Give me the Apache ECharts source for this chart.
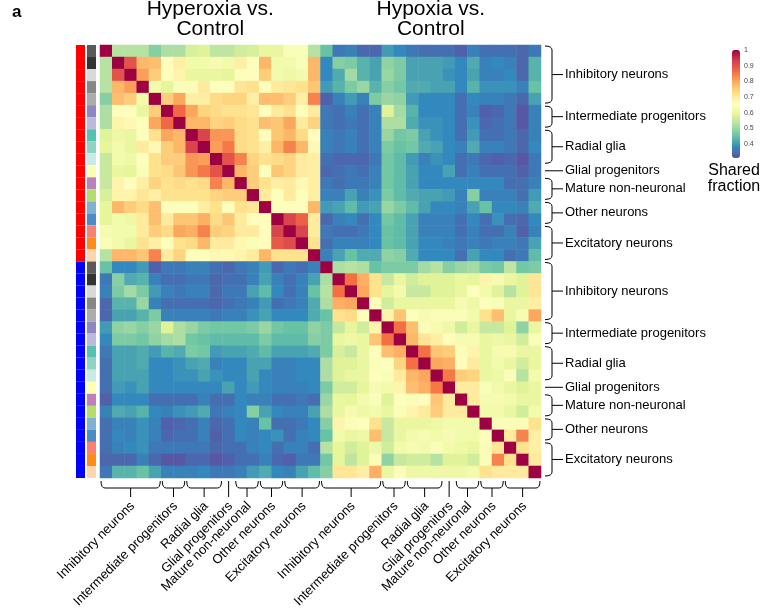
<!DOCTYPE html>
<html>
<head>
<meta charset="utf-8">
<script src="https://cdn.jsdelivr.net/npm/echarts@6/dist/echarts.min.js"></script>
<style>
  html, body { margin: 0; background: #fff; }
  #chart { width: 769px; height: 615px; }
</style>
</head>
<body>
<div id="chart"></div>
<script>
// conditions, cell-type groups and cluster annotation colours
var conditions = ['Hyperoxia', 'Hypoxia'];
var conditionColors = ['#ff0000', '#0000ff'];
var groupNames = ['Inhibitory neurons', 'Intermediate progenitors', 'Radial glia', 'Glial progenitors',
  'Mature non-neuronal', 'Other neurons', 'Excitatory neurons'];
var groupSizes = [5, 2, 3, 1, 2, 2, 3];
var clusterColors = ['#5a5a5a', '#333333', '#d9d9d9', '#878787', '#acacac', '#8e87c4', '#bcbadc',
  '#55c1b0', '#8fd3c7', '#c8ebe6', '#ffffb3', '#bc80bd', '#b3de69', '#80b1d3', '#4a8cc3',
  '#fb8072', '#ff8c1a', '#fdd6b0'];
var colorTicks = [0.4, 0.5, 0.6, 0.7, 0.8, 0.9, 1];

// shared fraction, Hyperoxia clusters vs Hyperoxia clusters
var hyperBlock = [
  [1.0, 0.53, 0.53, 0.53, 0.48, 0.52, 0.52, 0.57, 0.58, 0.54, 0.54, 0.56, 0.57, 0.6, 0.6, 0.64, 0.64, 0.53],
  [0.53, 1, 0.9, 0.78, 0.77, 0.66, 0.69, 0.62, 0.62, 0.63, 0.62, 0.69, 0.66, 0.78, 0.62, 0.62, 0.64, 0.78],
  [0.53, 0.9, 1, 0.81, 0.75, 0.65, 0.68, 0.6, 0.6, 0.6, 0.59, 0.65, 0.66, 0.75, 0.62, 0.61, 0.62, 0.78],
  [0.53, 0.78, 0.81, 1, 0.62, 0.59, 0.64, 0.64, 0.7, 0.65, 0.65, 0.71, 0.72, 0.66, 0.7, 0.71, 0.72, 0.76],
  [0.48, 0.77, 0.75, 0.62, 1, 0.75, 0.8, 0.69, 0.69, 0.73, 0.74, 0.74, 0.69, 0.77, 0.77, 0.75, 0.69, 0.84],
  [0.52, 0.65, 0.65, 0.6, 0.75, 1, 0.87, 0.8, 0.74, 0.73, 0.72, 0.72, 0.71, 0.66, 0.7, 0.72, 0.66, 0.7],
  [0.52, 0.68, 0.67, 0.65, 0.8, 0.87, 1, 0.78, 0.78, 0.74, 0.75, 0.73, 0.72, 0.77, 0.76, 0.8, 0.7, 0.74],
  [0.58, 0.61, 0.6, 0.65, 0.72, 0.8, 0.78, 1, 0.92, 0.82, 0.82, 0.73, 0.72, 0.66, 0.76, 0.78, 0.73, 0.66],
  [0.59, 0.62, 0.6, 0.7, 0.67, 0.75, 0.78, 0.92, 1, 0.81, 0.85, 0.73, 0.72, 0.69, 0.78, 0.84, 0.78, 0.67],
  [0.55, 0.62, 0.61, 0.65, 0.72, 0.75, 0.75, 0.82, 0.81, 1, 0.9, 0.84, 0.74, 0.72, 0.73, 0.74, 0.7, 0.69],
  [0.55, 0.6, 0.59, 0.64, 0.72, 0.73, 0.76, 0.82, 0.85, 0.9, 1, 0.78, 0.75, 0.65, 0.76, 0.74, 0.7, 0.69],
  [0.55, 0.68, 0.65, 0.69, 0.74, 0.72, 0.73, 0.72, 0.73, 0.84, 0.78, 1, 0.75, 0.72, 0.69, 0.7, 0.67, 0.69],
  [0.57, 0.68, 0.68, 0.71, 0.69, 0.72, 0.72, 0.72, 0.72, 0.74, 0.75, 0.75, 1, 0.7, 0.65, 0.7, 0.65, 0.69],
  [0.59, 0.78, 0.75, 0.73, 0.77, 0.66, 0.65, 0.66, 0.69, 0.72, 0.65, 0.72, 0.71, 1, 0.66, 0.66, 0.66, 0.78],
  [0.59, 0.62, 0.61, 0.7, 0.77, 0.7, 0.76, 0.76, 0.79, 0.73, 0.76, 0.7, 0.66, 0.66, 1, 0.92, 0.88, 0.7],
  [0.63, 0.62, 0.62, 0.7, 0.75, 0.73, 0.8, 0.79, 0.84, 0.75, 0.74, 0.7, 0.7, 0.66, 0.92, 1, 0.92, 0.7],
  [0.64, 0.62, 0.6, 0.72, 0.69, 0.65, 0.72, 0.73, 0.78, 0.7, 0.7, 0.67, 0.64, 0.66, 0.89, 0.91, 1, 0.72],
  [0.53, 0.78, 0.78, 0.76, 0.84, 0.7, 0.74, 0.66, 0.66, 0.67, 0.67, 0.68, 0.7, 0.78, 0.72, 0.72, 0.72, 1]
];

// Hyperoxia clusters (rows) vs Hypoxia clusters (columns)
var crossBlock = [
  [0.45, 0.36, 0.37, 0.34, 0.34, 0.4, 0.38, 0.36, 0.35, 0.35, 0.35, 0.33, 0.37, 0.35, 0.35, 0.35, 0.34, 0.36],
  [0.38, 0.48, 0.47, 0.43, 0.41, 0.49, 0.47, 0.41, 0.41, 0.41, 0.4, 0.38, 0.42, 0.37, 0.38, 0.37, 0.34, 0.43],
  [0.38, 0.42, 0.51, 0.43, 0.41, 0.5, 0.47, 0.41, 0.41, 0.41, 0.39, 0.38, 0.41, 0.37, 0.37, 0.38, 0.34, 0.43],
  [0.4, 0.43, 0.47, 0.5, 0.43, 0.48, 0.46, 0.42, 0.42, 0.41, 0.41, 0.38, 0.43, 0.39, 0.39, 0.39, 0.37, 0.45],
  [0.33, 0.37, 0.4, 0.37, 0.47, 0.5, 0.49, 0.4, 0.38, 0.38, 0.38, 0.35, 0.38, 0.37, 0.37, 0.36, 0.34, 0.41],
  [0.36, 0.35, 0.37, 0.35, 0.37, 0.58, 0.51, 0.43, 0.38, 0.38, 0.38, 0.35, 0.37, 0.33, 0.34, 0.36, 0.32, 0.37],
  [0.36, 0.35, 0.36, 0.35, 0.37, 0.52, 0.52, 0.42, 0.39, 0.39, 0.38, 0.35, 0.39, 0.34, 0.35, 0.36, 0.32, 0.37],
  [0.37, 0.36, 0.37, 0.35, 0.37, 0.5, 0.46, 0.47, 0.41, 0.39, 0.38, 0.35, 0.4, 0.35, 0.35, 0.36, 0.34, 0.37],
  [0.37, 0.36, 0.37, 0.35, 0.37, 0.47, 0.45, 0.46, 0.42, 0.41, 0.38, 0.37, 0.42, 0.37, 0.37, 0.36, 0.34, 0.38],
  [0.35, 0.34, 0.34, 0.34, 0.36, 0.46, 0.44, 0.4, 0.37, 0.39, 0.38, 0.35, 0.36, 0.34, 0.33, 0.34, 0.32, 0.36],
  [0.34, 0.35, 0.36, 0.35, 0.37, 0.46, 0.44, 0.41, 0.38, 0.38, 0.41, 0.35, 0.37, 0.35, 0.35, 0.35, 0.33, 0.36],
  [0.36, 0.35, 0.36, 0.36, 0.37, 0.46, 0.44, 0.41, 0.38, 0.38, 0.38, 0.38, 0.38, 0.38, 0.38, 0.35, 0.35, 0.37],
  [0.37, 0.37, 0.41, 0.37, 0.39, 0.47, 0.44, 0.42, 0.41, 0.41, 0.4, 0.37, 0.48, 0.37, 0.37, 0.37, 0.35, 0.4],
  [0.4, 0.41, 0.44, 0.4, 0.41, 0.5, 0.47, 0.44, 0.41, 0.38, 0.38, 0.37, 0.41, 0.45, 0.38, 0.38, 0.37, 0.42],
  [0.34, 0.37, 0.38, 0.35, 0.38, 0.46, 0.44, 0.41, 0.37, 0.37, 0.37, 0.35, 0.38, 0.35, 0.39, 0.35, 0.34, 0.38],
  [0.36, 0.35, 0.35, 0.36, 0.38, 0.45, 0.44, 0.41, 0.37, 0.37, 0.37, 0.35, 0.37, 0.35, 0.35, 0.37, 0.33, 0.37],
  [0.35, 0.37, 0.37, 0.37, 0.38, 0.45, 0.44, 0.41, 0.38, 0.38, 0.37, 0.36, 0.37, 0.36, 0.37, 0.37, 0.36, 0.41],
  [0.37, 0.41, 0.45, 0.42, 0.42, 0.49, 0.48, 0.42, 0.38, 0.38, 0.38, 0.35, 0.41, 0.38, 0.38, 0.35, 0.36, 0.44]
];

// Hypoxia clusters vs Hypoxia clusters
var hypoBlock = [
  [1, 0.52, 0.53, 0.52, 0.45, 0.47, 0.47, 0.47, 0.51, 0.53, 0.48, 0.5, 0.51, 0.47, 0.46, 0.54, 0.46, 0.47],
  [0.52, 1, 0.86, 0.79, 0.72, 0.55, 0.6, 0.56, 0.58, 0.58, 0.58, 0.6, 0.59, 0.68, 0.63, 0.6, 0.58, 0.71],
  [0.53, 0.86, 1, 0.8, 0.72, 0.59, 0.62, 0.55, 0.55, 0.58, 0.58, 0.6, 0.66, 0.62, 0.58, 0.53, 0.58, 0.71],
  [0.52, 0.79, 0.8, 1, 0.65, 0.56, 0.6, 0.6, 0.6, 0.6, 0.6, 0.63, 0.61, 0.65, 0.64, 0.6, 0.6, 0.69],
  [0.45, 0.72, 0.73, 0.65, 1, 0.68, 0.76, 0.65, 0.63, 0.64, 0.64, 0.64, 0.62, 0.72, 0.77, 0.6, 0.63, 0.8],
  [0.47, 0.55, 0.59, 0.56, 0.68, 1, 0.86, 0.77, 0.64, 0.63, 0.61, 0.56, 0.6, 0.55, 0.55, 0.58, 0.49, 0.6],
  [0.47, 0.6, 0.61, 0.6, 0.76, 0.86, 1, 0.78, 0.71, 0.69, 0.66, 0.63, 0.63, 0.6, 0.61, 0.6, 0.56, 0.64],
  [0.47, 0.57, 0.55, 0.6, 0.65, 0.77, 0.79, 1, 0.86, 0.76, 0.75, 0.64, 0.68, 0.6, 0.63, 0.63, 0.6, 0.6],
  [0.52, 0.58, 0.58, 0.6, 0.64, 0.65, 0.74, 0.86, 1, 0.8, 0.79, 0.66, 0.7, 0.6, 0.62, 0.6, 0.56, 0.6],
  [0.52, 0.58, 0.6, 0.6, 0.65, 0.64, 0.7, 0.78, 0.8, 1, 0.85, 0.75, 0.74, 0.6, 0.61, 0.64, 0.53, 0.62],
  [0.47, 0.56, 0.56, 0.59, 0.63, 0.62, 0.68, 0.77, 0.79, 0.85, 1, 0.7, 0.7, 0.64, 0.62, 0.6, 0.58, 0.6],
  [0.5, 0.6, 0.59, 0.62, 0.64, 0.58, 0.65, 0.64, 0.66, 0.76, 0.7, 1, 0.7, 0.63, 0.63, 0.62, 0.6, 0.6],
  [0.52, 0.6, 0.63, 0.61, 0.62, 0.6, 0.64, 0.68, 0.7, 0.75, 0.7, 0.7, 1, 0.62, 0.62, 0.6, 0.56, 0.62],
  [0.48, 0.68, 0.64, 0.65, 0.72, 0.55, 0.6, 0.6, 0.6, 0.61, 0.62, 0.62, 0.62, 1, 0.64, 0.64, 0.64, 0.72],
  [0.45, 0.62, 0.6, 0.61, 0.77, 0.55, 0.6, 0.62, 0.63, 0.62, 0.63, 0.62, 0.62, 0.65, 1, 0.7, 0.84, 0.69],
  [0.53, 0.59, 0.56, 0.58, 0.61, 0.56, 0.62, 0.63, 0.62, 0.64, 0.62, 0.61, 0.6, 0.64, 0.71, 1, 0.72, 0.69],
  [0.46, 0.59, 0.54, 0.58, 0.64, 0.49, 0.55, 0.56, 0.56, 0.53, 0.58, 0.58, 0.56, 0.64, 0.84, 0.72, 1, 0.7],
  [0.48, 0.71, 0.71, 0.69, 0.79, 0.6, 0.64, 0.61, 0.61, 0.61, 0.61, 0.61, 0.62, 0.72, 0.7, 0.7, 0.7, 1]
];

var spectral = ['#5e4fa2', '#3288bd', '#66c2a5', '#abdda4', '#e6f598', '#ffffbf',
  '#fee08b', '#fdae61', '#f46d43', '#d53e4f', '#9e0142'];
var font = '"Liberation Sans", Arial, sans-serif';

var n = clusterColors.length;
var labels = [];
conditions.forEach(function (c) {
  for (var k = 0; k < n; k++) labels.push(c + ' ' + (k + 1));
});

// full matrix, the Hypoxia x Hyperoxia block is the cross block transposed
var cells = [];
for (var i = 0; i < 2 * n; i++) {
  for (var j = 0; j < 2 * n; j++) {
    var v;
    if (i < n && j < n) v = hyperBlock[i][j];
    else if (i < n) v = crossBlock[i][j - n];
    else if (j < n) v = crossBlock[j][i - n];
    else v = hypoBlock[i - n][j - n];
    cells.push([j, i, v]);
  }
}

// group brackets: [start, end, group, side]  side 0 = right, 1 = bottom
var brackets = [];
for (var c = 0; c < 2; c++) {
  var start = c * n;
  groupSizes.forEach(function (sz, g) {
    brackets.push([start, start + sz - 1, g, 0]);
    brackets.push([start, start + sz - 1, g, 1]);
    start += sz;
  });
}

function renderBracket(params, api) {
  var s = api.value(0), e = api.value(1), g = api.value(2), side = api.value(3);
  var cs = params.coordSys;
  var band = api.size([1, 1]);
  var r = 4, d, txt;
  if (side === 0) {
    var y0 = api.coord([0, s])[1] - band[1] / 2 + 1;
    var y1 = api.coord([0, e])[1] + band[1] / 2 - 2;
    var ym = (y0 + y1) / 2;
    var x0 = cs.x + cs.width + 4, x1 = x0 + 7;
    if (s === e) d = 'M' + x0 + ' ' + ym + 'L' + (x1 + 11) + ' ' + ym;
    else d = 'M' + x0 + ' ' + y0 + 'Q' + x1 + ' ' + y0 + ' ' + x1 + ' ' + (y0 + r) +
      'L' + x1 + ' ' + (y1 - r) + 'Q' + x1 + ' ' + y1 + ' ' + x0 + ' ' + y1 +
      'M' + x1 + ' ' + ym + 'L' + (x1 + 11) + ' ' + ym;
    txt = {type: 'text', x: x1 + 13, y: ym,
      style: {text: groupNames[g], font: '13px ' + font, fill: '#000', align: 'left', verticalAlign: 'middle'}};
  } else {
    var xa = api.coord([s, 0])[0] - band[0] / 2 + 1;
    var xb = api.coord([e, 0])[0] + band[0] / 2 - 1;
    var xm = (xa + xb) / 2;
    var ya = cs.y + cs.height + 3, yb = ya + 7;
    if (s === e) d = 'M' + xm + ' ' + ya + 'L' + xm + ' ' + (yb + 9);
    else d = 'M' + xa + ' ' + ya + 'Q' + xa + ' ' + yb + ' ' + (xa + r) + ' ' + yb +
      'L' + (xb - r) + ' ' + yb + 'Q' + xb + ' ' + yb + ' ' + xb + ' ' + ya +
      'M' + xm + ' ' + yb + 'L' + xm + ' ' + (yb + 9);
    txt = {type: 'text', x: xm + 2, y: yb + 16, rotation: Math.PI / 4,
      style: {text: groupNames[g], font: '13px ' + font, fill: '#000', align: 'right', verticalAlign: 'middle'}};
  }
  return {
    type: 'group',
    children: [
      {type: 'path', shape: {pathData: d}, style: {stroke: '#000', fill: 'none', lineWidth: 1}},
      txt
    ]
  };
}

var gridLeft = 100, gridTop = 45, gridW = 441, gridH = 433;

var chart = echarts.init(document.getElementById('chart'));
var option = {
  animation: false,
  grid: [
    {left: gridLeft, top: gridTop, width: gridW, height: gridH},
    {left: 76, top: gridTop, width: 9, height: gridH},
    {left: 87, top: gridTop, width: 9, height: gridH},
    {left: 741, top: 50, width: 1, height: 108}
  ],
  xAxis: [
    {type: 'category', data: labels, gridIndex: 0, show: false},
    {type: 'value', gridIndex: 1, min: 0, max: 1, show: false},
    {type: 'value', gridIndex: 2, min: 0, max: 1, show: false},
    {type: 'value', gridIndex: 3, show: false}
  ],
  yAxis: [
    {type: 'category', data: labels, gridIndex: 0, inverse: true, show: false},
    {type: 'category', data: labels, gridIndex: 1, inverse: true, show: false},
    {type: 'category', data: labels, gridIndex: 2, inverse: true, show: false},
    {
      type: 'value', gridIndex: 3, min: 0.31, max: 1, position: 'right',
      axisLine: {show: false}, axisTick: {show: false}, splitLine: {show: false},
      axisLabel: {customValues: colorTicks, margin: 2, fontSize: 7, color: '#444', fontFamily: font}
    }
  ],
  visualMap: {
    type: 'continuous', seriesIndex: 0, min: 0.31, max: 1, calculable: false,
    orient: 'vertical', left: 732, top: 50, itemWidth: 8, itemHeight: 108, padding: 0,
    inRange: {color: spectral}
  },
  graphic: [
    {type: 'text', x: 12, y: 4, style: {text: 'a', font: 'bold 17px ' + font, fill: '#000'}},
    {type: 'text', x: gridLeft + gridW / 4, y: -1,
      style: {text: conditions[0] + ' vs.\nControl', font: '21px ' + font, lineHeight: 20, align: 'center', fill: '#000'}},
    {type: 'text', x: gridLeft + gridW * 3 / 4, y: -1,
      style: {text: conditions[1] + ' vs.\nControl', font: '21px ' + font, lineHeight: 20, align: 'center', fill: '#000'}},
    {type: 'text', x: 734, y: 163,
      style: {text: 'Shared\nfraction', font: '16px ' + font, lineHeight: 16, align: 'center', fill: '#000'}}
  ],
  series: [
    {
      type: 'heatmap', xAxisIndex: 0, yAxisIndex: 0, data: cells,
      emphasis: {disabled: true}, silent: true
    },
    {
      type: 'bar', xAxisIndex: 1, yAxisIndex: 1, barWidth: '100%', silent: true,
      data: labels.map(function (l, k) {
        return {value: 1, itemStyle: {color: conditionColors[k < n ? 0 : 1]}};
      })
    },
    {
      type: 'bar', xAxisIndex: 2, yAxisIndex: 2, barWidth: '100%', silent: true,
      data: labels.map(function (l, k) {
        return {value: 1, itemStyle: {color: clusterColors[k % n]}};
      })
    },
    {
      type: 'custom', xAxisIndex: 0, yAxisIndex: 0, data: brackets,
      renderItem: renderBracket, silent: true, clip: false
    }
  ]
};
chart.setOption(option);
</script>
</body>
</html>
